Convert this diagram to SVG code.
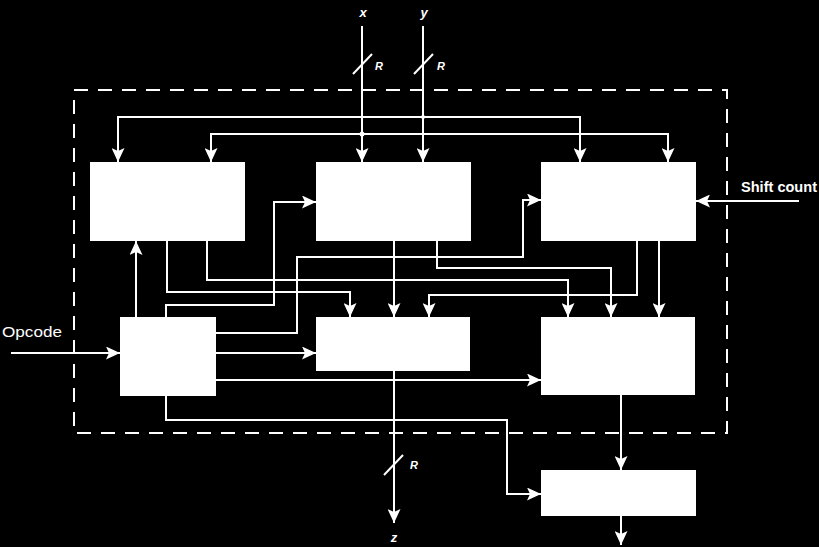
<svg xmlns="http://www.w3.org/2000/svg" width="819" height="547" viewBox="0 0 819 547">
<defs>
<style>
.box{fill:#fff;}
.ln{fill:none;stroke:#fff;stroke-width:2;}
.ar{marker-end:url(#ah);}
.dash{fill:none;stroke:#fff;stroke-width:2;stroke-dasharray:14 10;}
.lbl{fill:#fff;font-family:"Liberation Sans",Arial,sans-serif;}
.it{font-style:italic;font-weight:bold;font-size:12px;}
</style>
<marker id="ah" viewBox="0 0 14 13" refX="14" refY="6.5" markerWidth="14" markerHeight="13" markerUnits="userSpaceOnUse" orient="auto">
<path d="M0,0 L14,6.5 L0,13 L3,6.5 z" fill="#fff"/>
</marker>
</defs>
<rect width="819" height="547" fill="#000"/>
<rect class="dash" x="74" y="90" width="653" height="343"/>
<g id="connectors">
<path class="ln ar" d="M362,26 V162"/>
<path class="ln ar" d="M423,26 V162"/>
<path class="ln" d="M353,74 L372,54"/>
<path class="ln" d="M414,74 L433,54"/>
<path class="ln ar" d="M423,117 H118 V162"/>
<path class="ln ar" d="M423,117 H580 V162"/>
<path class="ln ar" d="M362,134 H211 V162"/>
<path class="ln ar" d="M362,134 H668 V162"/>
<circle cx="362" cy="134" r="2.5" fill="#fff"/>
<circle cx="423" cy="117" r="2" fill="#fff"/>
<path class="ln ar" d="M799,201 H696"/>
<path class="ln ar" d="M11,353 H120"/>
<path class="ln ar" d="M136,317 V241"/>
<path class="ln ar" d="M166,317 V305 H274 V202 H316"/>
<path class="ln ar" d="M216,333 H297 V257 H523 V200 H541"/>
<path class="ln ar" d="M216,353 H316"/>
<path class="ln ar" d="M216,380 H541"/>
<path class="ln ar" d="M166,396 V420 H507 V494 H541"/>
<path class="ln ar" d="M167,241 V292 H350 V317"/>
<path class="ln ar" d="M207,241 V280 H568 V317"/>
<path class="ln ar" d="M394,241 V317"/>
<path class="ln ar" d="M437,241 V268 H611 V317"/>
<path class="ln ar" d="M637,241 V295 H429 V317"/>
<path class="ln ar" d="M659,241 V317"/>
<path class="ln ar" d="M394,371 V523"/>
<path class="ln" d="M384,475 L403,455"/>
<path class="ln ar" d="M621,395 V470"/>
<path class="ln ar" d="M621,516 V545"/>
</g>
<g id="boxA"><rect class="box" x="90" y="162" width="155" height="79"/></g>
<g id="boxB"><rect class="box" x="316" y="162" width="155" height="79"/></g>
<g id="boxC"><rect class="box" x="541" y="162" width="155" height="79"/></g>
<g id="boxD"><rect class="box" x="120" y="317" width="96" height="79"/></g>
<g id="boxE"><rect class="box" x="316" y="317" width="154" height="54"/></g>
<g id="boxF"><rect class="box" x="541" y="317" width="154" height="78"/></g>
<g id="boxG"><rect class="box" x="541" y="470" width="155" height="46"/></g>
<g id="labels">
<text class="lbl it" x="363" y="17" text-anchor="middle" style="font-size:13px">x</text>
<text class="lbl it" x="424" y="17" text-anchor="middle" style="font-size:13px">y</text>
<text class="lbl it" x="375" y="70" style="font-size:11px">R</text>
<text class="lbl it" x="437" y="70" style="font-size:11px">R</text>
<text class="lbl it" x="410" y="469" style="font-size:11px">R</text>
<text class="lbl it" x="394" y="542" text-anchor="middle" style="font-size:13px">z</text>
<text class="lbl" x="741" y="192" font-size="14" font-weight="bold" textLength="76" lengthAdjust="spacingAndGlyphs">Shift count</text>
<text class="lbl" x="2" y="337" font-size="15" textLength="60" lengthAdjust="spacingAndGlyphs">Opcode</text>
</g>
</svg>
